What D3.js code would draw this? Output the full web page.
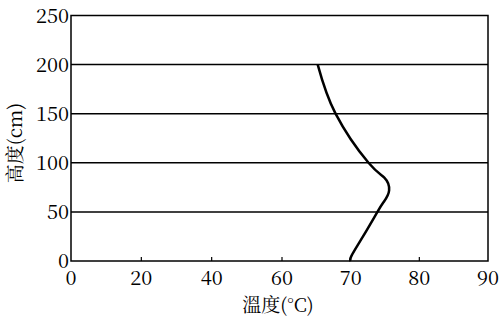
<!DOCTYPE html>
<html lang="en"><head><meta charset="utf-8">
<script src="https://cdn.jsdelivr.net/npm/d3@7"></script>
<style>body{margin:0;background:#fff}svg{display:block}</style>
</head><body><svg id="c" width="500" height="323"></svg>
<script>
const heights = [0, 5, 25, 50, 60, 72, 85, 100, 150, 200];
const temps = [70, 70.1, 71.8, 73.9, 74.8, 75.6, 74.9, 72.6, 67.8, 65.2];
const xTicks = [0, 20, 40, 60, 70, 80, 90];
const yTicks = [0, 50, 100, 150, 200, 250];
const xLabel = "溫度(°C)";
const yLabel = "高度(cm)";

const FONT = '"Noto Serif CJK TC"';
const svg = d3.select("#c");
const L = 71, R = 488, T = 15.5, B = 261;
const x = d3.scaleLinear().domain([0, 60, 90]).range([L, 282, R]);
const y = d3.scaleLinear().domain([0, 250]).range([B, T]);

svg.append("g").selectAll("line").data(yTicks.filter(d => d > 0 && d < 250)).join("line")
  .attr("x1", L).attr("x2", R).attr("y1", d => y(d)).attr("y2", d => y(d))
  .attr("stroke", "#000").attr("stroke-width", 1.5);

svg.append("rect").attr("x", L).attr("y", T).attr("width", R - L).attr("height", B - T)
  .attr("fill", "none").attr("stroke", "#000").attr("stroke-width", 1.5);

svg.append("g").selectAll("line").data(xTicks.filter(d => d > 0 && d < 90)).join("line")
  .attr("x1", d => x(d)).attr("x2", d => x(d)).attr("y1", B).attr("y2", B - 4)
  .attr("stroke", "#000").attr("stroke-width", 1.2);

svg.append("g").selectAll("text").data(xTicks).join("text")
  .attr("x", d => x(d)).attr("y", 285).attr("text-anchor", "middle")
  .style("font-family", FONT).style("font-size", "20px").text(d => d);

svg.append("g").selectAll("text").data(yTicks).join("text")
  .attr("x", 69).attr("y", d => y(d) + 7).attr("text-anchor", "end")
  .style("font-family", FONT).style("font-size", "20px").text(d => d);

svg.append("text").attr("x", 278).attr("y", 312).attr("text-anchor", "middle")
  .style("font-family", FONT).style("font-size", "19px").text(xLabel);

svg.append("text").attr("transform", "translate(22,143) rotate(-90)").attr("text-anchor", "middle")
  .style("font-family", FONT).style("font-size", "19px").text(yLabel);

const pts = heights.map((h, i) => [temps[i], h]);
svg.append("path").datum(pts)
  .attr("d", d3.line().x(d => x(d[0])).y(d => y(d[1])).curve(d3.curveNatural))
  .attr("fill", "none").attr("stroke", "#000").attr("stroke-width", 2.5);
</script></body></html>
